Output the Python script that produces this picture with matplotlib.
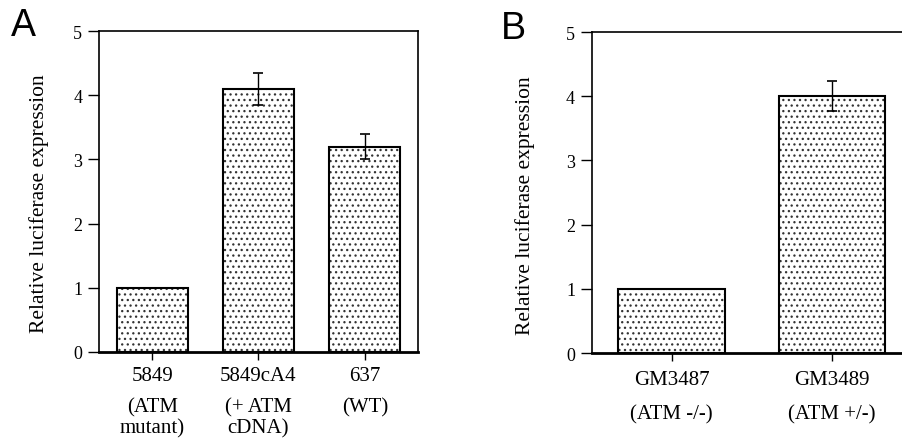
import matplotlib
matplotlib.use("Agg")
import matplotlib.pyplot as plt

# panel A data
labelsA = ["5849", "5849cA4", "637"]
notesA = [["(ATM", "mutant)"], ["(+ ATM", "cDNA)"], ["(WT)"]]
valuesA = [1.0, 4.1, 3.2]
errorsA = [0.0, 0.25, 0.19]

# panel B data
labelsB = ["GM3487", "GM3489"]
notesB = [["(ATM -/-)"], ["(ATM +/-)"]]
valuesB = [1.0, 4.0]
errorsB = [0.0, 0.23]

plt.rcParams["font.family"] = "Liberation Serif"
plt.rcParams["hatch.linewidth"] = 0.9

fig = plt.figure(figsize=(9.03, 4.39), dpi=100)
axA = fig.add_axes([0.1096, 0.1959, 0.3533, 0.7312])
axB = fig.add_axes([0.6553, 0.1936, 0.3547, 0.7312])


def draw(ax, labels, notes, values, errors, name_y, note_y, line_gap, lab_x, lab_y):
    x = list(range(len(values)))
    # dotted fill first, then the black outline on top
    ax.bar(x, values, width=0.667, color="white", edgecolor="#333333",
           linewidth=0, hatch="...", zorder=2)
    ax.bar(x, values, width=0.667, fill=False, edgecolor="black",
           linewidth=1.5, zorder=3)
    for xi, v, e in zip(x, values, errors):
        if e > 0:
            ax.errorbar(xi, v, yerr=e, fmt="none", ecolor="black",
                        elinewidth=1.0, capsize=3.5, capthick=1.2, zorder=4)
    ax.set_xlim(-0.5, len(values) - 0.5)
    ax.set_ylim(0, 5)
    ax.set_yticks([0, 1, 2, 3, 4, 5])
    ax.set_xticks(x)
    ax.set_xticklabels([])
    ax.tick_params(axis="y", direction="out", length=8, width=1.0,
                   labelsize=13, pad=4)
    ax.tick_params(axis="x", direction="out", length=6, width=1.0)
    for s in ax.spines.values():
        s.set_linewidth(1.2)
    ax.spines["bottom"].set_linewidth(2.0)
    trans = ax.get_xaxis_transform()
    for xi, lab, note in zip(x, labels, notes):
        ax.text(xi, name_y, lab, transform=trans, ha="center", va="center",
                fontsize=15)
        for i, line in enumerate(note):
            ax.text(xi, note_y - i * line_gap, line, transform=trans,
                    ha="center", va="center", fontsize=15)
    ax.set_ylabel("Relative luciferase expression", fontsize=15.5)
    ax.yaxis.set_label_coords(lab_x, lab_y)


draw(axA, labelsA, notesA, valuesA, errorsA, -0.072, -0.171, 0.066, -0.157, 0.466)
draw(axB, labelsB, notesB, valuesB, errorsB, -0.081, -0.19, 0.066, -0.177, 0.461)

fig.text(0.026, 0.94, "A", fontsize=27, family="Liberation Sans",
         ha="center", va="center")
fig.text(0.569, 0.935, "B", fontsize=27, family="Liberation Sans",
         ha="center", va="center")

fig.savefig("out.png", dpi=100)
